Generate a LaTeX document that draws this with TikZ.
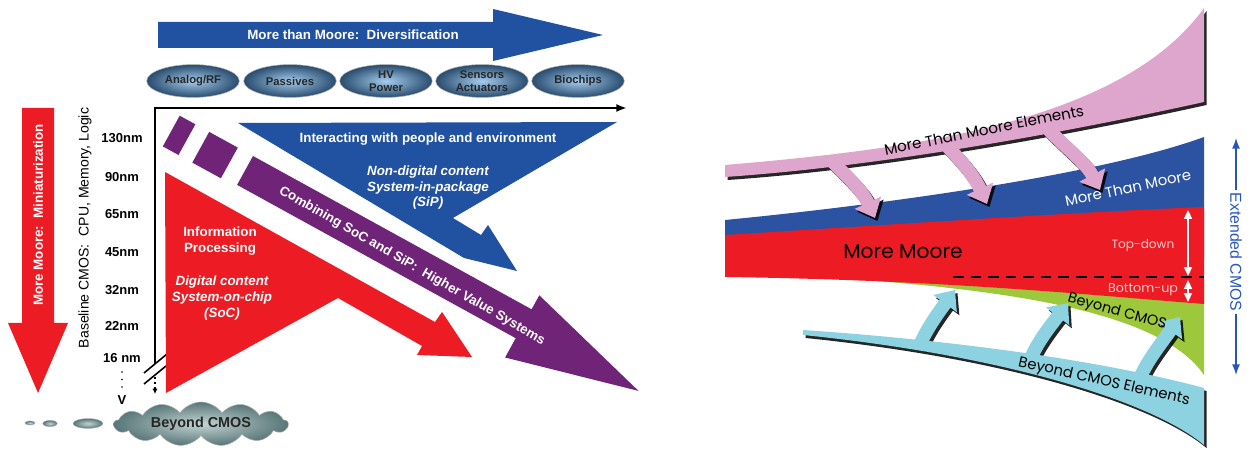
\documentclass[tikz,border=0pt]{standalone}
\usepackage{fontspec}
\setmainfont{Liberation Sans}
\newfontfamily\comicf{Poppins}
\usepackage{graphicx}
\usetikzlibrary{arrows.meta,shapes.geometric,shapes.symbols}

\definecolor{mblue}{RGB}{33,82,162}
\definecolor{mred}{RGB}{237,28,36}
\definecolor{mpurple}{RGB}{112,36,120}
\definecolor{rblue}{RGB}{44,82,162}
\definecolor{rgreen}{RGB}{158,200,60}
\definecolor{rpink}{RGB}{222,166,204}
\definecolor{rcyan}{RGB}{140,210,225}
\definecolor{extblue}{RGB}{40,85,185}
\definecolor{ellin}{RGB}{165,205,238}
\definecolor{ellout}{RGB}{40,75,110}
\definecolor{cloudin}{RGB}{195,212,212}
\definecolor{cloudout}{RGB}{88,118,120}
\definecolor{lpink}{RGB}{252,205,205}

\tikzset{
  lbl/.style={font=\fontsize{7.6}{9.1}\selectfont\bfseries, text=white, align=center, inner sep=0pt},
  lbli/.style={font=\fontsize{7.6}{9.0}\selectfont\bfseries\itshape, text=white, align=center, inner sep=0pt},
  nm/.style={font=\fontsize{7.4}{9}\selectfont\bfseries, inner sep=0pt},
  pill/.style={ellipse, minimum width=52.7pt, minimum height=18.7pt, inner sep=0pt,
    inner color=ellin, outer color=ellout, draw=gray!60, line width=0.3pt,
    font=\fontsize{6.4}{7.5}\selectfont\bfseries, text=black!85, align=center},
  blob/.style={ellipse, inner sep=0pt, inner color=cloudin, outer color=cloudout, draw=gray!60, line width=0.2pt},
  comic/.style={font=\comicf\fontsize{11}{12}\selectfont, inner sep=0pt},
  fatarrow/.style={line width=7.6pt, -{Triangle[width=16pt,length=9.6pt]}},
  shadowed/.style={black, opacity=0.85},
  axisline/.style={line width=1.4pt},
  updown/.style={white, line width=0.9pt, {Triangle[width=4.5pt,length=5pt]}-{Triangle[width=4.5pt,length=5pt]}},
}

\begin{document}
\begin{tikzpicture}[x=0.02cm,y=-0.02cm]
\useasboundingbox (0,0) rectangle (1250,452);

% ================= LEFT DIAGRAM =================
% top blue arrow
\fill[mblue] (158,22) -- (493,22) -- (493,9) -- (603,35) -- (493,61) -- (493,48) -- (158,48) -- cycle;
\node[lbl] (mtmd) at (353,35) {More than Moore:\ \ Diversification};

% pills
\node[pill] (e1) at (193,81) {Analog/RF};
\node[pill] (e2) at (290,81) {Passives};
\node[pill] (e3) at (386,81) {HV\\Power};
\node[pill] (e4) at (482,81) {Sensors\\Actuators};
\node[pill] (e5) at (578,81) {Biochips};

% red down arrow
\fill[mred] (22,108) -- (54,108) -- (54,323) -- (68,323) -- (38,393) -- (8,323) -- (22,323) -- cycle;
\node[lbl, rotate=90] (mmlbl) at (38,215) {More Moore:\ \ Miniaturization};

% baseline label
\node[font=\fontsize{8}{9}\selectfont, rotate=90, inner sep=0pt] (base) at (85,228) {Baseline CMOS:\ \ CPU, Memory, Logic};

% nm labels
\node[nm] (n130) at (122,138) {130nm};
\node[nm] (n90) at (122,177) {90nm};
\node[nm] (n65) at (122,214) {65nm};
\node[nm] (n45) at (122,252) {45nm};
\node[nm] (n32) at (122,290) {32nm};
\node[nm] (n22) at (122,326) {22nm};
\node[nm] (n16) at (122,358) {16 nm};
\fill (122,372) circle (0.9);
\fill (122,379.5) circle (0.9);
\fill (122,387) circle (0.9);
\node[nm] (nv) at (122,400) {V};

% axes
\coordinate (axb) at (155,364);
\coordinate (ax0) at (155,108);
\coordinate (axr) at (627,108);
\coordinate (axd0) at (155,377);
\coordinate (axd1) at (155,394);
\draw[axisline, line join=miter, -{Latex[length=6pt,width=4.5pt]}] (axb) -- (ax0) -- (axr);
\draw[line width=0.9pt] (144,373) -- (167,354);
\draw[line width=0.9pt] (144,384) -- (166,366);
\draw[line width=0.9pt, dotted, -{Latex[length=3pt,width=3pt]}] (axd0) -- (axd1);

% blue interacting triangle-arrow
\fill[mblue] (238,123) -- (617,122) -- (453,218) -- (481,235) -- (488,225) -- (517,271) -- (464,258) -- cycle;
\node[lbl] (inter) at (428,139) {Interacting with people and environment};
\node[lbli, font=\fontsize{7.6}{8.8}\selectfont\bfseries\itshape] (sip) at (428,188) {Non-digital content\\System-in-package\\(SiP)};

% purple squares and band
\fill[mpurple] (179.7,115.7) -- (195.4,124.3) -- (178.5,155) -- (162.8,146.4) -- cycle;
\fill[mpurple] (209.2,131.9) -- (237.8,147.6) -- (220.9,178.3) -- (192.3,162.6) -- cycle;
\fill[mpurple] (253,156) -- (531.6,309.3) -- (539.3,295.3) -- (638.5,390.9) -- (505.1,357.5) -- (515.7,338.2) -- (237.1,184.9) -- cycle;
\node[lbl, rotate=-29.9] (comb) at (412,266) {Combining SoC and SiP:\ \ Higher Value Systems};

% red information triangle-arrow
\fill[mred] (165,172) -- (435,322) -- (442,312) -- (472,357) -- (417,355) -- (422,346) -- (338,298) -- (166,393) -- cycle;
\node[lbl] (info) at (220,241) {Information\\Processing};
\node[lbli] (soc) at (222,298) {Digital content\\System-on-chip\\(SoC)};

% beyond CMOS cloud
\node[blob, minimum width=5.7pt, minimum height=2.4pt] (b1) at (30,423) {};
\node[blob, minimum width=8.2pt, minimum height=3.6pt] (b2) at (50,423.5) {};
\node[blob, minimum width=17pt, minimum height=5.6pt] (b3) at (88,423.5) {};
\node[cloud, cloud puffs=13, cloud puff arc=110, cloud ignores aspect, minimum width=99pt, minimum height=25pt,
      inner color=cloudin, outer color=cloudout, draw=gray!70, line width=0.3pt,
      font=\fontsize{8.2}{9}\selectfont\bfseries, text=black!85, inner sep=0pt] (bcmos) at (201,424) {Beyond CMOS};

% ================= RIGHT DIAGRAM =================
% blue band
\fill[rblue] (725,220) .. controls (880,205) and (1100,175) .. (1204,137)
  -- (1204,260) -- (725,260) -- cycle;
% green band
\fill[rgreen] (850,279) .. controls (1000,290) and (1160,310) .. (1204,375)
  -- (1204,280) -- (850,278) -- cycle;
% red band
\fill[mred] (725,235) .. controls (900,224) and (1080,212) .. (1204,207)
  -- (1204,304) .. controls (1100,296) and (950,280) .. (725,277) -- cycle;

% dashed boundary
\coordinate (dl) at (953,277);
\coordinate (dr) at (1204,277);
\draw[black, line width=0.9pt, dash pattern=on 6pt off 4pt] (dl) -- (dr);

% top-down / bottom-up arrows
\coordinate (td0) at (1188,210);
\coordinate (td1) at (1188,276);
\coordinate (bu0) at (1188,280);
\coordinate (bu1) at (1188,302);
\draw[updown] (td0) -- (td1);
\draw[updown] (bu0) -- (bu1);
\node[comic, text=lpink] (tdl) at (1143,246) {\resizebox{35.7pt}{!}{Top-down}};
\node[comic, text=lpink] (bul) at (1143,290) {\resizebox{39.7pt}{!}{Bottom-up}};

\node[comic] (mm) at (903,252) {\resizebox{68pt}{!}{More Moore}};
\node[comic, text=white, rotate=12] (mtm) at (1128,188) {\resizebox{73pt}{!}{More Than Moore}};

% pink arrows and band with shadows
\begin{scope}[shift={(2.5,3)}]
  \fill[shadowed] (725,165) .. controls (900,150) and (1120,125) .. (1204,8)
    -- (1204,102) .. controls (1100,125) and (900,165) .. (725,177) -- cycle;
  \draw[shadowed, fatarrow] (831,160) .. controls (850,180) and (862,190) .. (875,218);
  \draw[shadowed, fatarrow] (947,146) .. controls (966,166) and (975,178) .. (987,204);
  \draw[shadowed, fatarrow] (1047,128) .. controls (1068,150) and (1086,163) .. (1100,190);
\end{scope}
\coordinate (pa1) at (875,218);
\coordinate (pa2) at (987,204);
\coordinate (pa3) at (1100,190);
\draw[rpink, fatarrow] (831,160) .. controls (850,180) and (862,190) .. (pa1);
\draw[rpink, fatarrow] (947,146) .. controls (966,166) and (975,178) .. (pa2);
\draw[rpink, fatarrow] (1047,128) .. controls (1068,150) and (1086,163) .. (pa3);
\fill[rpink] (725,165) .. controls (900,150) and (1120,125) .. (1204,8)
  -- (1204,102) .. controls (1100,125) and (900,165) .. (725,177) -- cycle;
\node[comic, rotate=11.3] (mme) at (984,130) {\resizebox{115.6pt}{!}{More Than Moore Elements}};

% cyan arrows and band with shadows
\begin{scope}[shift={(2.5,3)}]
  \fill[shadowed] (803,330) .. controls (950,340) and (1100,360) .. (1204,388)
    -- (1204,445) .. controls (1150,400) and (1000,355) .. (803,335) -- cycle;
  \draw[shadowed, fatarrow] (919,347) .. controls (926,330) and (936,316) .. (955,290);
  \draw[shadowed, fatarrow] (1030,360) .. controls (1037,343) and (1048,329) .. (1068,303);
  \draw[shadowed, fatarrow] (1140,378) .. controls (1147,361) and (1160,345) .. (1180,317);
\end{scope}
\coordinate (ca1) at (955,290);
\coordinate (ca2) at (1068,303);
\coordinate (ca3) at (1180,317);
\draw[rcyan, fatarrow] (919,347) .. controls (926,330) and (936,316) .. (ca1);
\draw[rcyan, fatarrow] (1030,360) .. controls (1037,343) and (1048,329) .. (ca2);
\draw[rcyan, fatarrow] (1140,378) .. controls (1147,361) and (1160,345) .. (ca3);
\fill[rcyan] (803,330) .. controls (950,340) and (1100,360) .. (1204,388)
  -- (1204,445) .. controls (1150,400) and (1000,355) .. (803,335) -- cycle;
\node[comic, rotate=-12.8] (bce) at (1104,382) {\resizebox{99.8pt}{!}{Beyond CMOS Elements}};
\node[comic, rotate=-15.6] (bc) at (1117,312) {\resizebox{58pt}{!}{Beyond CMOS}};

% extended CMOS
\node[font=\fontsize{9}{10}\selectfont, text=extblue, rotate=-90, inner sep=1.5pt] (ext) at (1236,252) {Extended CMOS};
\coordinate (ectop) at (1236,138);
\coordinate (ecbot) at (1236,375);
\draw[extblue, line width=0.8pt, -{Latex[length=6pt,width=4.5pt]}] (ext.west) -- (ectop);
\draw[extblue, line width=0.8pt, -{Latex[length=6pt,width=4.5pt]}] (ext.east) -- (ecbot);

\end{tikzpicture}
\end{document}
